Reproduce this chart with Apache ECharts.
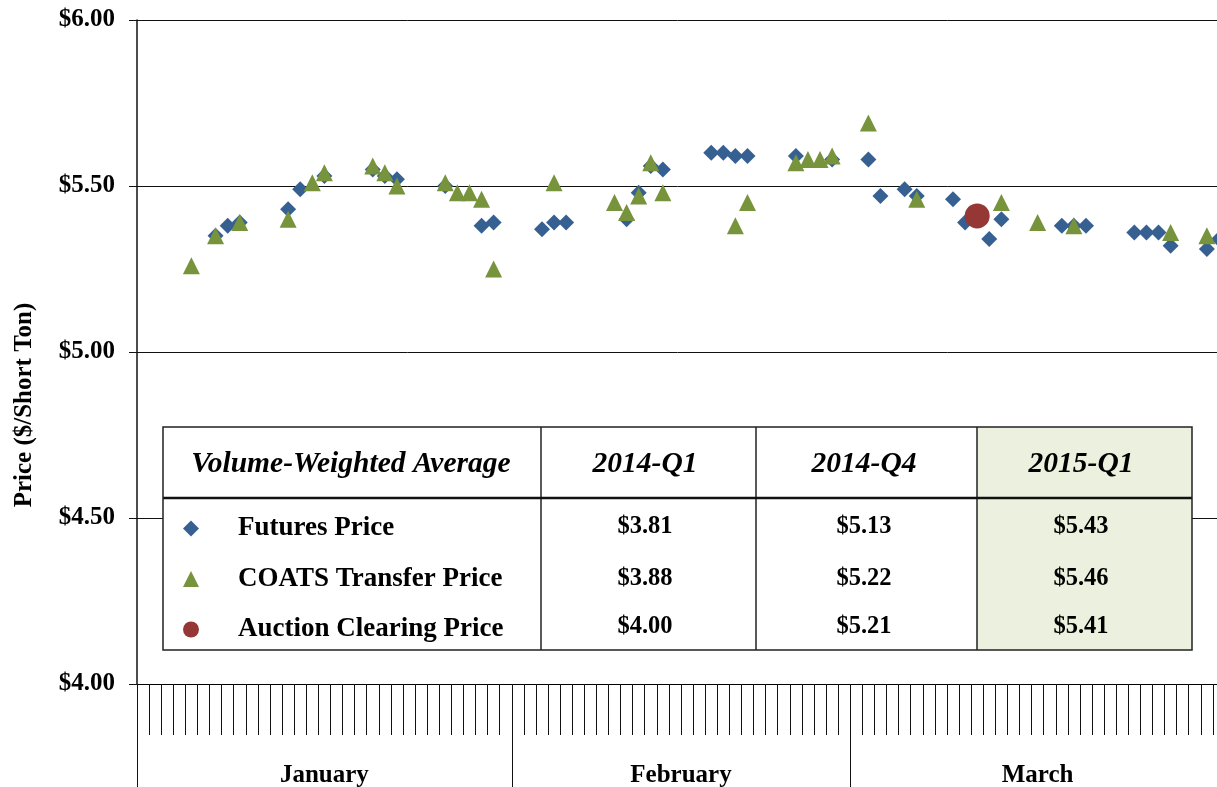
<!DOCTYPE html>
<html>
<head>
<meta charset="utf-8">
<script src="https://cdn.jsdelivr.net/npm/echarts@6/dist/echarts.min.js"></script>
<style>
html,body{margin:0;padding:0;background:#fff;}
#chart{width:1217px;height:787px;}
</style>
</head>
<body>
<div id="chart"></div>
<script>
// Day-of-quarter index (Jan 1 = 1 ... Mar 31 = 90)
const futuresDays   = [7,8,9,13,14,16,20,21,22,26,29,30,34,35,36,41,42,43,44,48,49,50,51,55,58,61,62,64,65,68,69,71,72,77,78,79,83,84,85,86,89,90];
const futuresPrices = [5.35,5.38,5.39,5.43,5.49,5.53,5.55,5.53,5.52,5.50,5.38,5.39,5.37,5.39,5.39,5.40,5.48,5.56,5.55,5.60,5.60,5.59,5.59,5.59,5.58,5.58,5.47,5.49,5.47,5.46,5.39,5.34,5.40,5.38,5.38,5.38,5.36,5.36,5.36,5.32,5.31,5.34];

const coatsDays   = [5,7,9,13,15,16,20,21,22,26,27,28,29,30,35,40,41,42,43,44,50,51,55,56,57,58,61,65,72,75,78,86,89];
const coatsPrices = [5.26,5.35,5.39,5.40,5.51,5.54,5.56,5.54,5.50,5.51,5.48,5.48,5.46,5.25,5.51,5.45,5.42,5.47,5.57,5.48,5.38,5.45,5.57,5.58,5.58,5.59,5.69,5.46,5.45,5.39,5.38,5.36,5.35];

const auctionDays   = [70];
const auctionPrices = [5.41];

const monthNames  = ['January','February','March'];
const monthBounds = [0,31,59,90];
const monthMids   = [15.5,45,74.5];

const seriesNames = ['Futures Price','COATS Transfer Price','Auction Clearing Price'];
const tableHeaders = ['Volume-Weighted Average','2014-Q1','2014-Q4','2015-Q1'];
const avg2014Q1 = ['$3.81','$3.88','$4.00'];
const avg2014Q4 = ['$5.13','$5.22','$5.21'];
const avg2015Q1 = ['$5.43','$5.46','$5.41'];

const SERIF = "'Liberation Serif','Times New Roman',serif";

function pts(days, prices){ return days.map((d,i)=>[d-0.5, prices[i]]); }

// Table (annotation) geometry
const T = {x0:163, x1:541, x2:756, x3:977, x4:1192, y0:427, yh:498, y1:650};
const colCenters = [351, 645, 864, 1081];
const rowY = [527, 579, 627];
const g = [];
g.push({type:'rect', z:3, shape:{x:T.x0,y:T.y0,width:T.x4-T.x0,height:T.y1-T.y0}, style:{fill:'#fff'}});
g.push({type:'rect', z:3, shape:{x:T.x3,y:T.y0,width:T.x4-T.x3,height:T.y1-T.y0}, style:{fill:'#EBF1DE'}});
[T.x1,T.x2,T.x3].forEach(x=>g.push({type:'line', z:4, shape:{x1:x,y1:T.y0,x2:x,y2:T.y1}, style:{stroke:'#222',lineWidth:1.5}}));
g.push({type:'line', z:4, shape:{x1:T.x0,y1:T.yh,x2:T.x4,y2:T.yh}, style:{stroke:'#111',lineWidth:2.5}});
g.push({type:'rect', z:4, shape:{x:T.x0,y:T.y0,width:T.x4-T.x0,height:T.y1-T.y0}, style:{fill:'none',stroke:'#222',lineWidth:1.5}});
tableHeaders.forEach((h,i)=>g.push({type:'text', z:5, x:colCenters[i], y:464,
  style:{text:h, fill:'#000', font:"italic bold 29.5px "+SERIF, align:'center', verticalAlign:'middle'}}));
[avg2014Q1, avg2014Q4, avg2015Q1].forEach((col,ci)=>col.forEach((v,ri)=>g.push({type:'text', z:5,
  x:colCenters[ci+1], y:rowY[ri],
  style:{text:v, fill:'#000', font:"bold 24.5px "+SERIF, align:'center', verticalAlign:'middle'}})));

const chart = echarts.init(document.getElementById('chart'), null, {renderer:'canvas'});
chart.setOption({
  animation:false,
  backgroundColor:'#fff',
  grid:{left:137, width:1088, top:20, bottom:103, containLabel:false, outerBoundsMode:'none'},
  xAxis:[{
    type:'value', min:0, max:90, interval:1,
    axisLine:{show:true, lineStyle:{color:'#000', width:1}},
    axisTick:{show:true, inside:false, length:51, lineStyle:{color:'#111', width:1}},
    axisLabel:{show:false},
    splitLine:{show:false}
  },{
    type:'value', min:0, max:90, position:'bottom',
    axisLine:{show:false},
    axisTick:{show:true, length:103, customValues:monthBounds, lineStyle:{color:'#111', width:1}},
    axisLabel:{show:true, customValues:monthMids, margin:79,
      formatter:v=>monthNames[monthMids.indexOf(v)],
      fontFamily:SERIF, fontWeight:'bold', fontSize:25, color:'#000'},
    splitLine:{show:false}
  }],
  yAxis:{
    type:'value', min:4, max:6, interval:0.5,
    name:'Price ($/Short Ton)', nameLocation:'middle', nameGap:100, nameRotate:90,
    nameTextStyle:{fontFamily:SERIF, fontWeight:'bold', fontSize:25, color:'#000', padding:[0,106,0,0]},
    axisLine:{show:true, lineStyle:{color:'#111', width:1.5}},
    axisTick:{show:true, inside:false, length:8, lineStyle:{color:'#111'}},
    axisLabel:{margin:22, formatter:v=>'$'+v.toFixed(2), fontFamily:SERIF, fontWeight:'bold', fontSize:25, color:'#000'},
    splitLine:{show:true, lineStyle:{color:'#111', width:1}}
  },
  legend:{
    data:seriesNames, orient:'vertical', left:183, top:515, padding:0,
    itemWidth:16, itemHeight:16, itemGap:23.5, selectedMode:false, z:10,
    textStyle:{fontFamily:SERIF, fontWeight:'bold', fontSize:27, color:'#000', lineHeight:26, padding:[0,0,0,34]}
  },
  graphic:g,
  series:[
    {name:seriesNames[0], type:'scatter', symbol:'diamond', symbolSize:16, z:2,
      itemStyle:{color:'#376092', opacity:1}, data:pts(futuresDays,futuresPrices)},
    {name:seriesNames[1], type:'scatter', symbol:'triangle', symbolSize:17, z:3,
      itemStyle:{color:'#77933C', opacity:1}, data:pts(coatsDays,coatsPrices)},
    {name:seriesNames[2], type:'scatter', symbol:'circle', symbolSize:25, z:4,
      itemStyle:{color:'#953735', opacity:1}, data:pts(auctionDays,auctionPrices)}
  ]
});
</script>
</body>
</html>
